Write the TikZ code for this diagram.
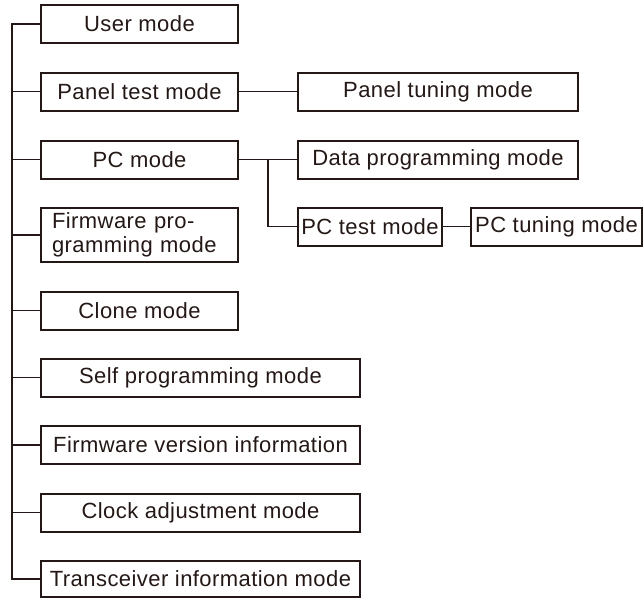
\documentclass[tikz,border=0pt]{standalone}
\usepackage{fontspec}
\setmainfont{Liberation Sans}[LetterSpace=2]
\definecolor{ink}{HTML}{231815}
\begin{document}
\begin{tikzpicture}[x=1pt,y=-1pt,
  box/.style={draw=ink, line width=2pt, inner sep=0pt, text=ink,
    minimum height=38, font=\fontsize{22}{24}\selectfont},
  narrow/.style={box, minimum width=197},
  wide/.style={box, minimum width=319},
  link/.style={draw=ink, line width=1.7pt}]
\useasboundingbox (0,0) rectangle (644,598);
% main column
\node[narrow] (user)  at (139.5,24)    {User mode};
\node[narrow] (ptest) at (139.5,91.5)  {Panel test mode};
\node[narrow] (pc)    at (139.5,159.5) {PC mode};
\node[narrow, minimum height=54, text width=175, align=left] (fw) at (139.5,235)
  {Firmware pro-\\gramming mode};
\node[narrow] (clone) at (139.5,310.5) {Clone mode};
\node[wide] (self)  at (200.5,377.5) {Self programming mode};
\node[wide] (fver)  at (200.5,445)   {Firmware version information};
\node[wide] (clock) at (200.5,512.5) {Clock adjustment mode};
\node[wide, minimum height=36] (trans) at (200.5,579) {Transceiver information mode};
% second level
\node[box, minimum width=280] (ptune) at (438,91.5)  {Panel tuning mode};
\node[box, minimum width=280] (data)  at (438,159.5) {Data programming mode};
\node[box, minimum width=144] (pctest) at (370,226.5) {PC test mode};
\node[box, minimum width=171] (pctune) at (556.5,226.5) {PC tuning mode};
% connectors
\coordinate (top) at (12,24);
\coordinate (j) at (268,159.5);
\draw[link] (user.west) -- (top) |- (trans.west);
\foreach \n in {ptest,pc,fw,clone,self,fver,clock}
  \draw[link] (\n.west) -- (\n.west -| top);
\draw[link] (ptest.east) -- (ptune.west);
\draw[link] (pc.east) -- (data.west);
\draw[link] (j) |- (pctest.west);
\draw[link] (pctest.east) -- (pctune.west);
\end{tikzpicture}
\end{document}
